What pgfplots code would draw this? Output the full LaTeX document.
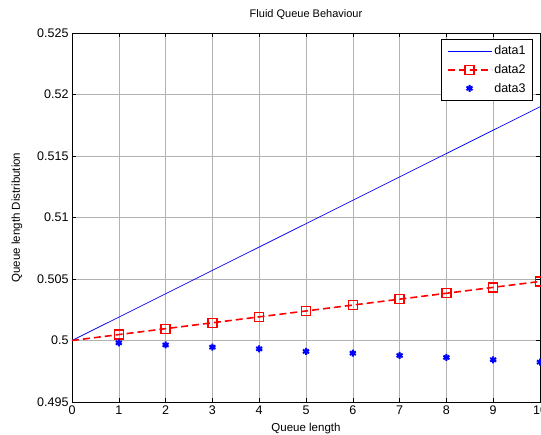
\documentclass[border=0pt]{standalone}
\usepackage{fontspec}
\setmainfont{Liberation Sans}
\usepackage{pgfplots}
\pgfplotsset{compat=1.18}

\begin{document}
\begin{tikzpicture}
\useasboundingbox (0pt,0pt) rectangle (541pt,435pt);
\begin{axis}[
  at={(72pt,33pt)}, anchor=south west,
  scale only axis, width=468pt, height=369pt,
  xmin=0, xmax=10, ymin=0.495, ymax=0.525,
  xtick={0,1,...,10},
  ytick={0.495,0.5,0.505,0.51,0.515,0.52,0.525},
  yticklabels={0.495,0.5,0.505,0.51,0.515,0.52,0.525},
  tick align=inside, tick style={black, thin},
  major tick length=4pt,
  grid=major, grid style={gray!60, line width=0.6pt},
  axis line style={black, line width=0.8pt},
  /pgf/number format/assume math mode=true,
  ticklabel style={font=\fontsize{12.5}{14}\selectfont},
  title={Fluid Queue Behaviour},
  title style={font=\fontsize{11}{13}\selectfont, yshift=4pt},
  xlabel={Queue length},
  ylabel={Queue length Distribution},
  label style={font=\fontsize{11.5}{13}\selectfont},
  xlabel style={yshift=-2pt},
  ylabel style={yshift=8pt},
  legend style={at={(0.985,0.985)}, anchor=north east, font=\fontsize{12.5}{14}\selectfont,
    line width=0.8pt, row sep=4pt, inner xsep=5pt, inner ysep=5pt},
  legend cell align=left,
  legend image code/.code={\draw[mark indices={2}]
    plot coordinates {(0pt,0pt) (22pt,0pt) (44pt,0pt)};},
]
% data1: legend line drawn as a wide "-" mark, since marks keep their colour there
\addplot[blue, line width=0.7pt, mark=none,
  legend image code/.code={\draw[mark=-, mark size=22pt,
    mark options={blue, line width=0.8pt}] plot coordinates {(22pt,0pt)};}] coordinates
  {(0,0.5) (1,0.5019) (2,0.5038) (3,0.5057) (4,0.5076) (5,0.5095) (6,0.5114) (7,0.5133) (8,0.5152) (9,0.5171) (10,0.519)};
\addplot[red, line width=1.6pt, dash pattern=on 7pt off 4pt, mark=square, mark size=4.5pt,
  mark indices={2,...,11}, mark options={solid, line width=1.3pt}] coordinates
  {(0,0.5) (1,0.50048) (2,0.50096) (3,0.50144) (4,0.50192) (5,0.5024) (6,0.50288) (7,0.50336) (8,0.50384) (9,0.50432) (10,0.5048)};
\addplot[blue, only marks, mark=asterisk, mark size=3.5pt, line width=2pt,
  legend image code/.code={\draw[mark indices={2}]
    plot coordinates {(0pt,0pt) (22pt,0pt) (44pt,0pt)};}] coordinates
  {(1,0.49981) (2,0.49964) (3,0.49946) (4,0.49932) (5,0.49911) (6,0.49897) (7,0.49878) (8,0.49862) (9,0.49843) (10,0.49824)};
\legend{data1, data2, data3}
\end{axis}
\end{tikzpicture}
\end{document}
